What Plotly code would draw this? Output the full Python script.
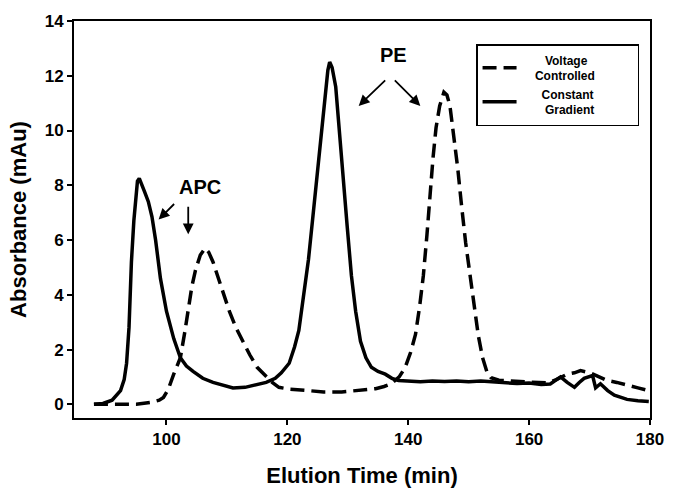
import plotly.graph_objects as go

# Constant Gradient (solid)
cg_time = [88.0, 89.5, 91.0, 92.4, 93.0, 93.4, 93.8, 94.2, 94.6, 94.9, 95.2, 95.5, 95.9, 96.4, 97.0,
           97.6, 98.2, 99.0, 100.0, 101.2, 102.3, 103.3, 104.4, 106.0, 107.7, 109.5, 111.0, 113.0,
           115.0, 116.5, 118.0, 119.0, 120.3, 121.2, 121.9, 122.7, 123.5, 124.2, 124.9, 125.6, 126.3,
           126.7, 127.0, 127.4, 128.0, 128.6, 129.3, 129.9, 130.6, 131.3, 132.1, 133.0, 133.9, 135.0,
           136.2, 137.3, 138.4, 140.0, 142.0, 144.0, 146.0, 148.0, 150.0, 152.0, 154.0, 156.0, 158.0,
           160.0, 162.0, 163.5, 164.5, 165.2, 166.3, 167.5, 168.3, 169.1, 170.5, 171.0, 171.8, 173.0,
           174.1, 176.2, 178.0, 179.8]
cg_abs = [0.0, 0.03, 0.15, 0.5, 0.9, 1.5, 2.8, 5.2, 6.7, 7.6, 8.15, 8.25, 8.05, 7.75, 7.4,
          6.85, 6.0, 4.6, 3.4, 2.4, 1.7, 1.4, 1.2, 0.95, 0.8, 0.68, 0.6, 0.62,
          0.72, 0.8, 0.95, 1.15, 1.5, 2.1, 2.7, 3.9, 5.3, 6.8, 8.3, 9.8, 11.3,
          12.2, 12.5, 12.3, 11.6, 10.1, 8.3, 6.5, 4.7, 3.4, 2.3, 1.7, 1.35, 1.2,
          1.1, 0.95, 0.87, 0.85, 0.82, 0.85, 0.83, 0.85, 0.82, 0.85, 0.83, 0.8, 0.76,
          0.78, 0.72, 0.74, 0.9, 1.0, 0.8, 0.62, 0.8, 0.95, 1.05, 0.6, 0.75, 0.5,
          0.33, 0.18, 0.13, 0.1]

# Voltage Controlled (dashed)
vc_time = [88.0, 90.0, 92.9, 95.0, 97.4, 98.8, 99.5, 100.3, 101.2, 102.3, 103.0, 103.6, 104.2, 104.8,
           105.6, 106.4, 107.0, 107.7, 108.5, 109.4, 110.4, 111.5, 112.6, 113.8, 115.0, 116.5, 117.5,
           118.6, 120.5, 123.5, 126.0, 129.0, 132.0, 134.6, 136.0, 137.2, 138.5, 139.5, 140.4, 141.2,
           141.9, 142.5, 143.1, 143.6, 144.1, 144.6, 145.2, 145.9, 146.4, 146.9, 147.5, 148.2, 148.8,
           149.5, 150.3, 151.0, 151.6, 152.3, 153.0, 153.7, 155.0, 157.0, 159.0, 161.0, 163.0, 164.5,
           166.3, 167.5, 168.5, 170.1, 171.5, 172.9, 174.5, 176.2, 178.0, 179.8]
vc_abs = [0.0, 0.0, -0.03, 0.0, 0.07, 0.15, 0.25, 0.55, 1.1, 1.7, 2.6, 3.5, 4.3, 4.9,
          5.45, 5.7, 5.55, 5.2, 4.65, 4.0, 3.4, 2.8, 2.3, 1.8, 1.35, 1.0, 0.8,
          0.62, 0.55, 0.5, 0.45, 0.45, 0.5, 0.57, 0.65, 0.75, 1.0, 1.35, 1.9, 2.55,
          3.6, 4.7, 6.2, 7.7, 9.0, 10.1, 10.9, 11.4, 11.3, 10.9, 9.9, 8.6, 7.3,
          5.9, 4.6, 3.5, 2.5, 1.7, 1.2, 0.97, 0.88, 0.85, 0.82, 0.8, 0.78, 0.9,
          1.1, 1.15, 1.23, 1.15, 1.0, 0.87, 0.8, 0.69, 0.6, 0.5]

x_ticks = [100, 120, 140, 160, 180]
y_ticks = [0, 2, 4, 6, 8, 10, 12, 14]

FONT = "Liberation Sans, Arial, sans-serif"
SP = "&nbsp;"

fig = go.Figure()
fig.add_trace(go.Scatter(
    x=vc_time, y=vc_abs, mode="lines",
    name=SP * 7 + "Voltage<br>" + SP * 4 + "Controlled" + SP * 11,
    line=dict(color="black", width=3.5, dash="14px,7px"),
))
fig.add_trace(go.Scatter(
    x=cg_time, y=cg_abs, mode="lines",
    name=SP * 6 + "Constant<br>" + SP * 7 + "Gradient",
    line=dict(color="black", width=3.5),
))

# Annotations: labels
fig.add_annotation(x=105.6, y=7.92, text="APC", showarrow=False,
                   font=dict(family=FONT, size=20, color="black", weight="bold"))
fig.add_annotation(x=137.5, y=12.75, text="PE", showarrow=False,
                   font=dict(family=FONT, size=20, color="black", weight="bold"))

arrows = [
    (98.7, 6.75, 17, -17),
    (103.6, 6.21, 0, -29),
    (131.8, 10.9, 28, -27),
    (142.0, 10.9, -27, -27),
]
for hx, hy, ax, ay in arrows:
    fig.add_annotation(x=hx, y=hy, ax=ax, ay=ay, text="", showarrow=True,
                       arrowhead=2, arrowsize=1.2, arrowwidth=1.8, arrowcolor="black")

axis_common = dict(
    showline=True, linecolor="black", linewidth=2, mirror=True,
    ticks="outside", ticklen=5, tickwidth=1.5, tickcolor="black",
    showgrid=False, zeroline=False,
    tickfont=dict(family=FONT, size=17, color="black", weight="bold"),
)

fig.update_layout(
    width=676, height=500,
    margin=dict(l=74, r=23, t=16, b=82),
    paper_bgcolor="white", plot_bgcolor="white",
    font=dict(family=FONT, color="black"),
    xaxis=dict(range=[84.7, 180], tickvals=x_ticks,
               title=dict(text="Elution Time (min)", standoff=19,
                          font=dict(family=FONT, size=22, color="black", weight="bold")),
               **axis_common),
    yaxis=dict(range=[-0.5, 14], tickvals=y_ticks,
               title=dict(text="Absorbance (mAu)", standoff=12,
                          font=dict(family=FONT, size=22, color="black", weight="bold")),
               **axis_common),
    legend=dict(x=0.698, y=0.942, xanchor="left", yanchor="top",
                bgcolor="white", bordercolor="black", borderwidth=1.5,
                font=dict(family=FONT, size=12, color="black", weight="bold"),
                itemwidth=34, tracegroupgap=0),
    showlegend=True,
)

fig.write_html("out.html",
               config={"displayModeBar": False},
               post_script="document.body.style.margin='0';document.body.style.overflow='hidden';")
